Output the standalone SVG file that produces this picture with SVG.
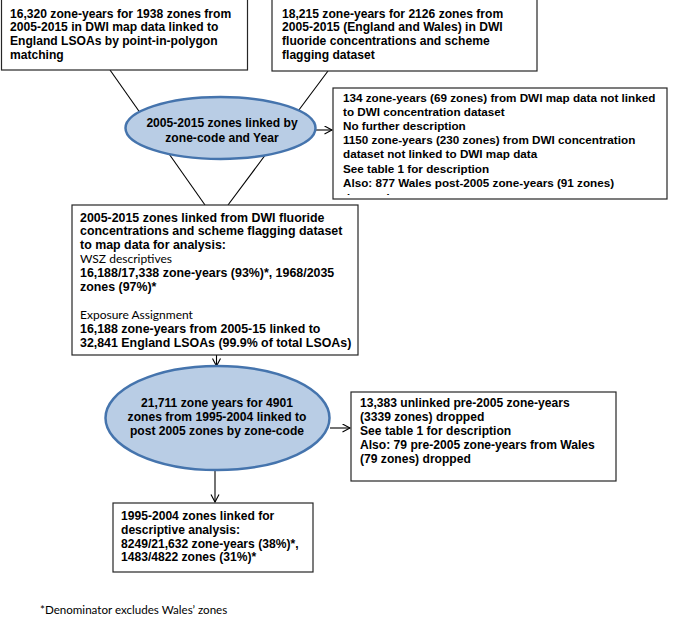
<svg xmlns="http://www.w3.org/2000/svg" width="685" height="617" viewBox="0 0 685 617">
<style>
.box{fill:#fff;stroke:#262626;stroke-width:1.2}
.ell{fill:#b9cde5;stroke:#4574ad;stroke-width:2.5}
.b{font-family:"Liberation Sans",Arial,sans-serif;font-weight:bold;font-size:12.1px;fill:#000}
.s{font-size:11.7px}
.g{font-size:12.4px}
.r{font-family:Lato,"Open Sans",sans-serif;font-size:12px;fill:#000}
.c{text-anchor:middle}
.ln{stroke:#000;stroke-width:1.1;fill:none}
</style>
<defs>
<marker id="ah" markerUnits="userSpaceOnUse" markerWidth="10" markerHeight="10" refX="8" refY="4.5" orient="auto">
<path d="M0.5,0.5 L8,4.5 L0.5,8.5" fill="none" stroke="#000" stroke-width="1.1"/>
</marker>
<clipPath id="clip3"><rect x="333" y="88" width="334" height="107"/></clipPath>
</defs>
<g id="connectors">
<line class="ln" x1="110" y1="70" x2="205" y2="205"/>
<line class="ln" x1="328" y1="71" x2="228" y2="205"/>
<line class="ln" x1="316" y1="130" x2="332" y2="130" marker-end="url(#ah)"/>
<line class="ln" x1="216.5" y1="355" x2="216.5" y2="366" marker-end="url(#ah)"/>
<line class="ln" x1="330" y1="428" x2="350" y2="428" marker-end="url(#ah)"/>
<line class="ln" x1="215" y1="470" x2="215" y2="502" marker-end="url(#ah)"/>
</g>
<g id="box1">
<rect class="box" x="1.5" y="-1" width="246" height="71"/>
<text class="b" x="10" y="17.5">16,320 zone-years for 1938 zones from</text>
<text class="b" x="10" y="31.3">2005-2015 in DWI map data linked to</text>
<text class="b" x="10" y="45.1">England LSOAs by point-in-polygon</text>
<text class="b" x="10" y="58.9">matching</text>
</g>
<g id="box2">
<rect class="box" x="272" y="-1" width="265" height="72"/>
<text class="b" x="282" y="17.5">18,215 zone-years for 2126 zones from</text>
<text class="b" x="282" y="31.3">2005-2015 (England and Wales) in DWI</text>
<text class="b" x="282" y="45.1">fluoride concentrations and scheme</text>
<text class="b" x="282" y="58.9">flagging dataset</text>
</g>
<g id="ellipse1">
<ellipse class="ell" cx="220.5" cy="128" rx="95" ry="31"/>
<text class="b c" x="222" y="127">2005-2015 zones linked by</text>
<text class="b c" x="222" y="141.5">zone-code and Year</text>
</g>
<g id="box3">
<rect class="box" x="333" y="88" width="334" height="111"/>
<g clip-path="url(#clip3)">
<text class="b s" x="343" y="101.5">134 zone-years (69 zones) from DWI map data not linked</text>
<text class="b s" x="343" y="115.7">to DWI concentration dataset</text>
<text class="b s" x="343" y="129.9">No further description</text>
<text class="b s" x="343" y="144.1">1150 zone-years (230 zones) from DWI concentration</text>
<text class="b s" x="343" y="158.3">dataset not linked to DWI map data</text>
<text class="b s" x="343" y="172.5">See table 1 for description</text>
<text class="b s" x="343" y="186.7">Also: 877 Wales post-2005 zone-years (91 zones)</text>
<text class="b s" x="343" y="201.5">dropped</text>
</g>
</g>
<g id="box4">
<rect class="box" x="72" y="205" width="286" height="150"/>
<text class="b g" x="80" y="221.5">2005-2015 zones linked from DWI fluoride</text>
<text class="b g" x="80" y="235.4">concentrations and scheme flagging dataset</text>
<text class="b g" x="80" y="249.3">to map data for analysis:</text>
<text class="r" x="80" y="263.2">WSZ descriptives</text>
<text class="b g" x="80" y="277.1">16,188/17,338 zone-years (93%)*, 1968/2035</text>
<text class="b g" x="80" y="291">zones (97%)*</text>
<text class="r" x="80" y="318.8">Exposure Assignment</text>
<text class="b g" x="80" y="332.7">16,188 zone-years from 2005-15 linked to</text>
<text class="b g" x="80" y="346.6">32,841 England LSOAs (99.9% of total LSOAs)</text>
</g>
<g id="ellipse2">
<ellipse class="ell" cx="217.5" cy="418" rx="112" ry="52"/>
<text class="b c" x="217" y="406.7">21,711 zone years for 4901</text>
<text class="b c" x="217" y="421">zones from 1995-2004 linked to</text>
<text class="b c" x="217" y="435.3">post 2005 zones by zone-code</text>
</g>
<g id="box5">
<rect class="box" x="351" y="392" width="265" height="89"/>
<text class="b" x="360" y="407">13,383 unlinked pre-2005 zone-years</text>
<text class="b" x="360" y="421">(3339 zones) dropped</text>
<text class="b" x="360" y="435">See table 1 for description</text>
<text class="b" x="360" y="449">Also: 79 pre-2005 zone-years from Wales</text>
<text class="b" x="360" y="463">(79 zones) dropped</text>
</g>
<g id="box6">
<rect class="box" x="113" y="503" width="200" height="69"/>
<text class="b" x="121" y="520">1995-2004 zones linked for</text>
<text class="b" x="121" y="533.8">descriptive analysis:</text>
<text class="b" x="121" y="547.6">8249/21,632 zone-years (38%)*,</text>
<text class="b" x="121" y="561.4">1483/4822 zones (31%)*</text>
</g>
<g id="footnote">
<text class="r" x="40" y="614" style="font-size:11.6px">*Denominator excludes Wales’ zones</text>
</g>
</svg>
